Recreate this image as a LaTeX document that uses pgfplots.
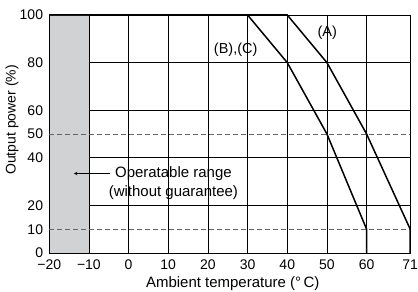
\documentclass[border=0pt]{standalone}
\usepackage{pgfplots}
\pgfplotsset{compat=1.18}
\usepackage{fontspec}
\setmainfont{Liberation Sans}
\definecolor{shade}{RGB}{209,210,212}
\definecolor{dashc}{RGB}{100,100,100}
\begin{document}
\begin{tikzpicture}
\begin{axis}[
  name=ax,
  scale only axis, width=361.4bp, height=238.3bp,
  xmin=-20, xmax=71, ymin=0, ymax=100,
  clip=false,
  xtick={-20,-10,0,10,20,30,40,50,60,71},
  xticklabels={−20,−10,0,10,20,30,40,50,60,71},
  ytick={0,20,40,60,80,100},
  extra y ticks={10,50},
  extra y tick labels={10,50},
  extra y tick style={ymajorgrids=false},
  /pgf/number format/assume math mode=true,
  grid=major,
  grid style={black, line width=0.6bp},
  major tick length=0,
  axis line style={line width=0.7bp, black},
  tick label style={font=\fontsize{14bp}{16bp}\selectfont, inner sep=0pt},
  xticklabel style={anchor=north, yshift=-7bp},
  yticklabel style={anchor=east, xshift=-6bp},
  xlabel={Ambient temperature (\textdegree\,C)},
  ylabel={Output power (\%)},
  xlabel style={font=\fontsize{15bp}{17bp}\selectfont, inner sep=0pt, at={(axis description cs:0.5,0)}, anchor=center, yshift=-30.7bp, xshift=3bp},
  ylabel style={font=\fontsize{14bp}{17bp}\selectfont, inner sep=0pt, at={(axis description cs:0,0.5)}, anchor=center, xshift=14bp, yshift=37.3bp},
]
\addplot[fill=shade, draw=none] coordinates {(-20,100)(-10,100)} \closedcycle;
\addplot[black, line width=0.6bp] coordinates {(-10,0)(-10,100)};
\addplot[black, line width=0.7bp] coordinates {(-20,0)(-20,100)};
\addplot[dashc, line width=0.7bp, dash pattern=on 5bp off 3bp] coordinates {(-20,10)(71,10)};
\addplot[dashc, line width=0.7bp, dash pattern=on 5bp off 3bp] coordinates {(-20,50)(71,50)};
\addplot[black, line width=1.5bp] coordinates {(-20,100)(40,100)(50,80)(60,50)(71,10)(71,0)};
\addplot[black, line width=1.5bp] coordinates {(-20,100)(30,100)(40,80)(50,50)(60,10)(60,0)};
\draw[-stealth, line width=0.6bp] (axis cs:-4.7,33.4) -- (axis cs:-13.8,33.4);
\node[align=center, font=\fontsize{15bp}{19bp}\selectfont, inner sep=0pt] at (axis cs:11.3,29.3) {Operatable range\\(without guarantee)};
\node[font=\fontsize{14.5bp}{17bp}\selectfont, inner sep=0pt] at (axis cs:50.1,92.5) {(A)};
\node[font=\fontsize{14.5bp}{17bp}\selectfont, inner sep=0pt] at (axis cs:27,85.4) {(B),(C)};
\end{axis}
\path (ax.north) ++(0,15bp);
\path (ax.south) ++(0,-38.7bp);
\path (ax.west) ++(-49.3bp,0);
\end{tikzpicture}
\end{document}
